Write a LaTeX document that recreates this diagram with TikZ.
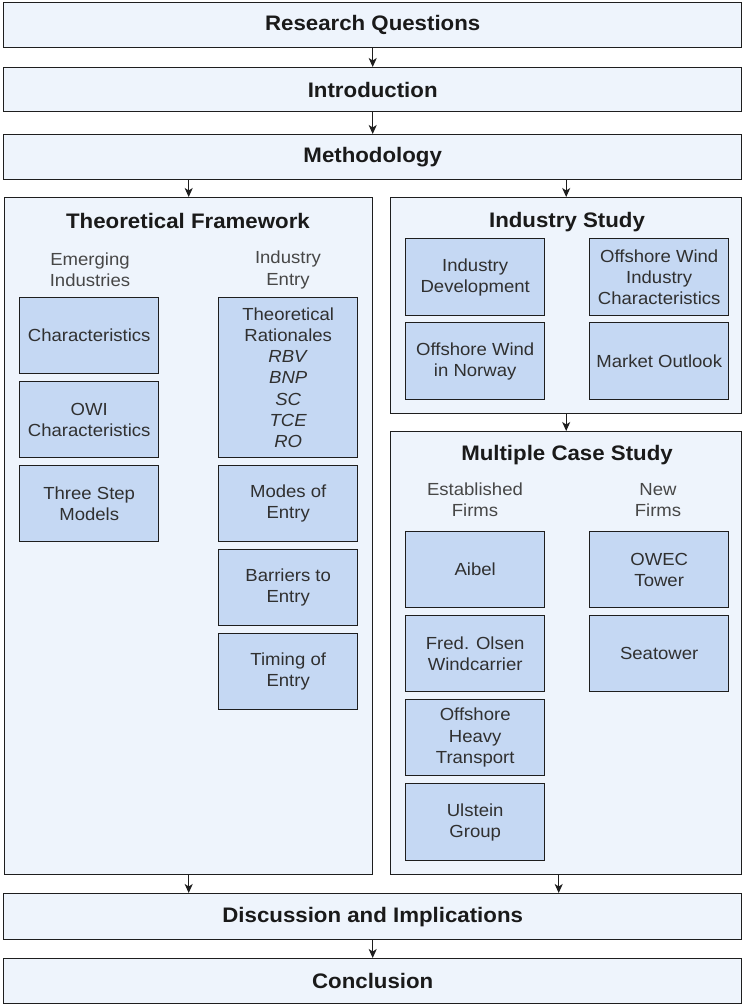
\documentclass[tikz,border=0pt]{standalone}
\usepackage{fontspec}
\setmainfont{Liberation Sans}[FakeStretch=1.06]
\usetikzlibrary{arrows.meta}
\definecolor{outerfill}{HTML}{EEF4FC}
\definecolor{innerfill}{HTML}{C5D8F3}
\definecolor{edgec}{HTML}{1E1E1E}
\definecolor{txtc}{HTML}{303030}
\definecolor{hdrc}{HTML}{474747}
\definecolor{ttlc}{HTML}{1A1A1A}
\tikzset{
  x=1pt, y=-1pt,
  outerbox/.style={draw=edgec, fill=outerfill, line width=1.4pt, inner sep=0pt, anchor=north west},
  innerbox/.style={draw=edgec, fill=innerfill, line width=1.4pt, inner sep=0pt, anchor=north west,
    align=center, text=txtc, minimum width=139pt, minimum height=76pt, font=\fontsize{17.5}{21.3}\selectfont},
  ttl/.style={font=\fontsize{21}{25}\selectfont\bfseries, text=ttlc},
  hdr/.style={align=center, text=hdrc, font=\fontsize{17.5}{21.3}\selectfont},
  flow/.style={draw=edgec, line width=1.1pt, -{Stealth[length=9pt,width=8pt,inset=2.5pt]}},
}
\begin{document}
\begin{tikzpicture}
\useasboundingbox (0,0) rectangle (742,1005);
\fill[white] (0,0) rectangle (742,1005);

% top boxes
\node[outerbox, ttl, minimum width=738pt, minimum height=45pt] (rq) at (3,2) {Research Questions};
\node[outerbox, ttl, minimum width=738pt, minimum height=44pt] (intro) at (3,67) {Introduction};
\node[outerbox, ttl, minimum width=738pt, minimum height=45pt] (meth) at (3,134) {Methodology};

% containers
\node[outerbox, minimum width=368pt, minimum height=677pt] (tf) at (4,197) {};
\node[outerbox, minimum width=351pt, minimum height=216pt] (is) at (390,197) {};
\node[outerbox, minimum width=351pt, minimum height=443pt] (mcs) at (390,431) {};

% bottom boxes
\node[outerbox, ttl, minimum width=738pt, minimum height=46pt] (disc) at (3,893) {Discussion and Implications};
\node[outerbox, ttl, minimum width=738pt, minimum height=45pt] (conc) at (3,958) {Conclusion};

% Theoretical Framework
\node[ttl] (tftitle) at (188,221) {Theoretical Framework};
\node[hdr] (emerg) at (90,270) {Emerging\\Industries};
\node[hdr] (entry) at (288,270) {Industry\\Entry};
\node[innerbox] (chr) at (19,297) {Characteristics};
\node[innerbox] (owi) at (19,381) {OWI\\Characteristics};
\node[innerbox] (three) at (19,465) {Three Step\\Models};
\node[innerbox, minimum height=160pt] (rat) at (218,297) {Theoretical\\Rationales\\\textit{RBV}\\\textit{BNP}\\\textit{SC}\\\textit{TCE}\\\textit{RO}};
\node[innerbox] (modes) at (218,465) {Modes of\\Entry};
\node[innerbox] (barr) at (218,549) {Barriers to\\Entry};
\node[innerbox] (timing) at (218,633) {Timing of\\Entry};

% Industry Study
\node[ttl] (istitle) at (567,222) {Industry Study};
\node[innerbox, minimum height=77pt] (indev) at (405,238) {Industry\\Development};
\node[innerbox, minimum height=77pt] (owic) at (589,238) {Offshore Wind\\Industry\\Characteristics};
\node[innerbox, minimum height=77pt] (own) at (405,322) {Offshore Wind\\in Norway};
\node[innerbox, minimum height=77pt] (mo) at (589,322) {Market Outlook};

% Multiple Case Study
\node[ttl] (mcstitle) at (567,455) {Multiple Case Study};
\node[hdr] (estab) at (475,500) {Established\\Firms};
\node[hdr] (newf) at (658,500) {New\\Firms};
\node[innerbox] (aibel) at (405,531) {Aibel};
\node[innerbox] (fred) at (405,615) {Fred. Olsen\\Windcarrier};
\node[innerbox] (oht) at (405,699) {Offshore\\Heavy\\Transport};
\node[innerbox, minimum height=77pt] (ulst) at (405,783) {Ulstein\\Group};
\node[innerbox] (owec) at (589,531) {OWEC\\Tower};
\node[innerbox] (sea) at (589,615) {Seatower};

% connectors
\draw[flow] (rq.south) -- (intro.north);
\draw[flow] (intro.south) -- (meth.north);
\draw[flow] (meth.south -| tf.north) -- (tf.north);
\draw[flow] (meth.south -| is.north) -- (is.north);
\draw[flow] (is.south) -- (mcs.north);
\draw[flow] (tf.south) -- (tf.south |- disc.north);
\draw[flow] ([xshift=-7.5pt]mcs.south) -- ([xshift=-7.5pt]mcs.south |- disc.north);
\draw[flow] (disc.south) -- (conc.north);
\end{tikzpicture}
\end{document}
